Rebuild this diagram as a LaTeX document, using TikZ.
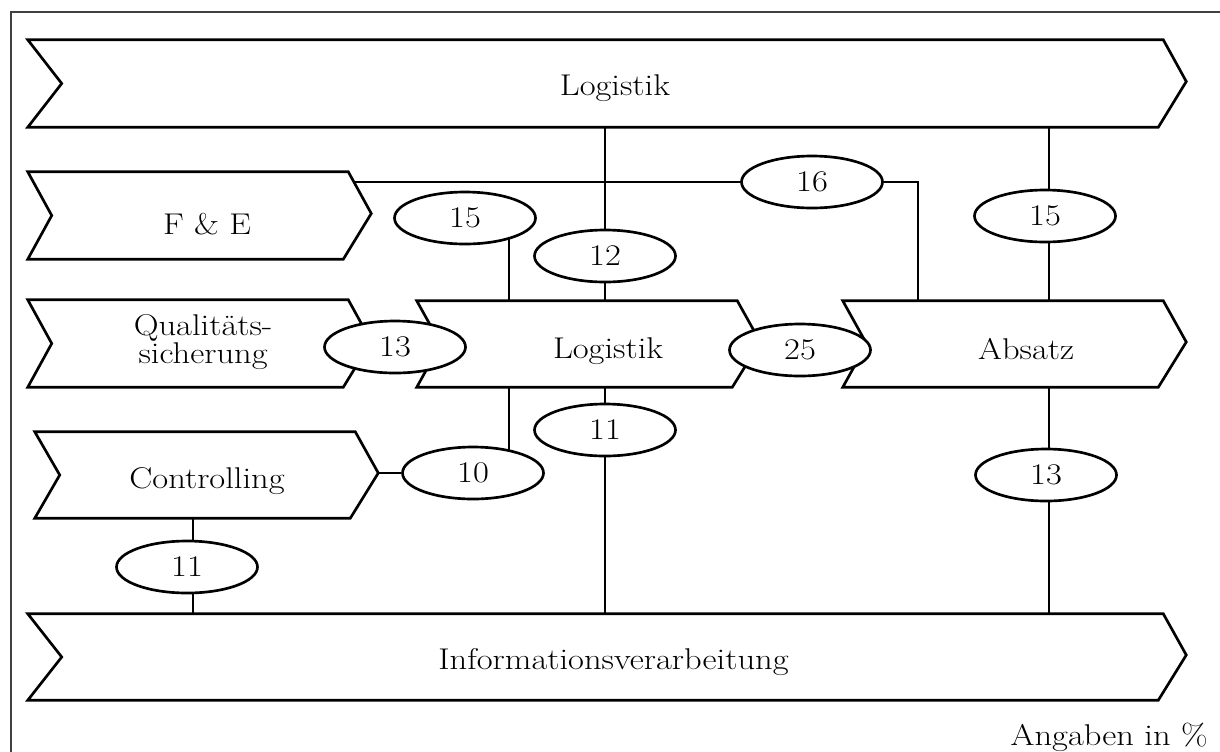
\documentclass[tikz,border=0pt]{standalone}
\usepackage{fontspec}
\setmainfont{Latin Modern Roman}[FakeStretch=1.15]
\usetikzlibrary{calc,shapes.geometric,backgrounds}

% outline of a chevron band: notch depth on the left, pointed tip on the right
\newcommand\bandoutline[2]{%
  \draw[bandline] (#1.north west) -- (#1.north east)
    -- ($(#1.east)+(23,-2)$) -- ($(#1.south east)+(-5,0)$)
    -- (#1.south west) -- ($(#1.west)+(#2,0)$) -- cycle;}

\begin{document}
\begin{tikzpicture}[x=0.75pt,y=-0.75pt,
  txt/.style={font=\fontsize{22.5}{23}\selectfont, inner sep=0pt, align=center},
  bandtxt/.style={txt, anchor=base, yshift=-3.5pt},
  band/.style={rectangle, inner sep=0pt, minimum height=65.25pt},
  bandline/.style={line width=2pt, line join=miter},
  share/.style={ellipse, draw, fill=white, line width=2pt, txt,
                minimum width=105.75pt, minimum height=39pt},
  link/.style={line width=2.2pt}]

\useasboundingbox (0,0) rectangle (1220,751);

% frame
\draw[line width=1.4pt, black!75] (11,770) -- (11,12) -- (1240,12);

% column positions of the vertical links
\coordinate (c193) at (193,0);
\coordinate (c509) at (509,0);
\coordinate (c605) at (605,0);
\coordinate (c918) at (918,0);
\coordinate (c1049) at (1049,0);

% bands
\node[band, minimum width=851.25pt,
  label={[bandtxt, name=topLt, xshift=14.6pt]center:Logistik}] (topL) at (595.5,83.5) {};
\node[band, minimum width=240pt,
  label={[bandtxt, name=fet, xshift=14.3pt, yshift=-3pt]center:F \& E}] (fe) at (188,215.5) {};
\node[band, minimum width=240pt,
  label={[txt, name=qst, xshift=11.3pt, yshift=1pt]center:Qualitäts-\\[-2pt]sicherung}] (qs) at (188,343.5) {};
\node[band, minimum width=240pt, minimum height=64.5pt,
  label={[bandtxt, name=midLt, xshift=23.3pt, yshift=-1.5pt]center:Logistik}] (midL) at (577,344) {};
\node[band, minimum width=240pt, minimum height=64.5pt,
  label={[bandtxt, name=absatzt, xshift=17.3pt]center:Absatz}] (absatz) at (1003,344) {};
\node[band, minimum width=240pt, minimum height=64.5pt,
  label={[bandtxt, name=ctrlt, xshift=9pt, yshift=-1pt]center:Controlling}] (ctrl) at (195,475) {};
\node[band, minimum width=851.25pt, minimum height=64.5pt,
  label={[bandtxt, name=infot, xshift=13.5pt]center:Informationsverarbeitung}] (info) at (595.5,657) {};

\bandoutline{topL}{34}
\bandoutline{fe}{24}
\bandoutline{qs}{24}
\bandoutline{midL}{24}
\bandoutline{absatz}{24}
\bandoutline{ctrl}{25}
\bandoutline{info}{34}

% shares
\node[share] (e16)  at (812,182) {16};
\node[share] (e15a) at (465,218) {15};
\node[share] (e12)  at (605,256) {12};
\node[share] (e15b) at (1045,216) {15};
\node[share] (e13a) at (395,347) {13};
\node[share] (e25)  at (800,350) {25};
\node[share] (e11m) at (605,430) {11};
\node[share] (e10)  at (473,473) {10};
\node[share] (e13b) at (1046,475) {13};
\node[share] (e11l) at (187,567) {11};

% links, drawn beneath the shares
\begin{pgfonlayer}{background}
  \draw[link] (topL.south -| c605) -- (midL.north -| c605);
  \draw[link] (topL.south -| c1049) -- (absatz.north -| c1049);
  \draw[link] ($(e16 -| fe.north east)+(5,0)$) -- (e16 -| c918) -- (absatz.north -| c918);
  \draw[link] (e15a -| c509) -- (midL.north -| c509);
  \draw[link] (midL.south -| c509) -- (e10 -| c509);
  \draw[link] ($(ctrl.east)+(23,-2)$) -- (e10);
  \draw[link] (midL.south -| c605) -- (info.north -| c605);
  \draw[link] (absatz.south -| c1049) -- (info.north -| c1049);
  \draw[link] (ctrl.south -| c193) -- (info.north -| c193);
\end{pgfonlayer}

\node[txt, anchor=base east] (note) at (1208,745) {Angaben in \%};
\end{tikzpicture}
\end{document}
